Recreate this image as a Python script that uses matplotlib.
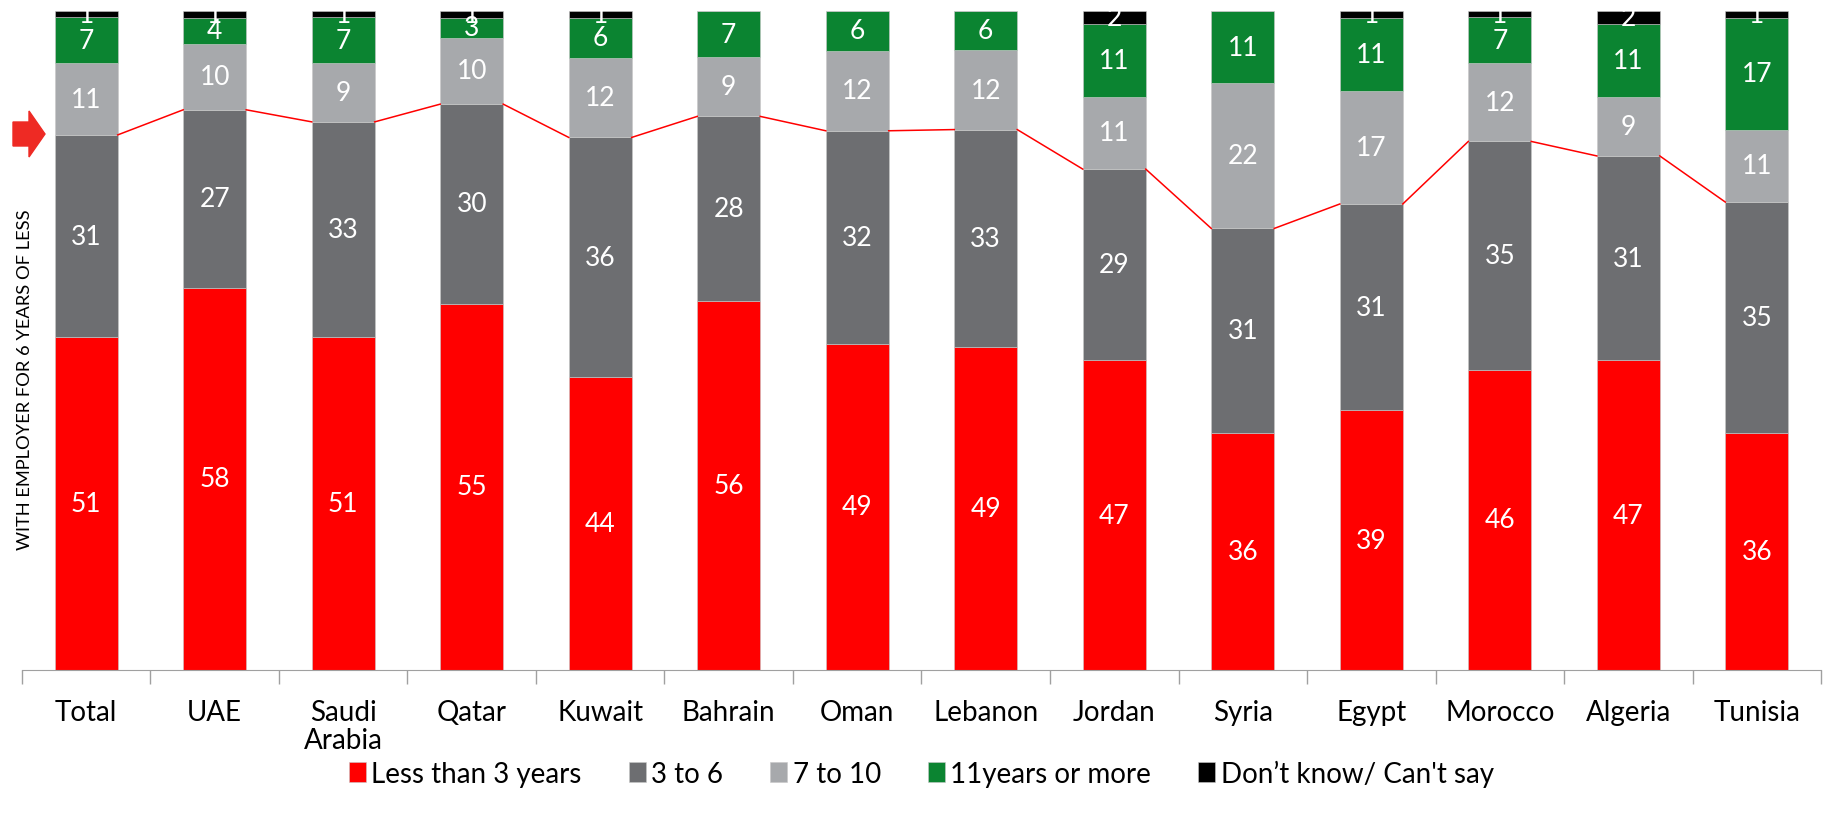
import numpy as np
import matplotlib.pyplot as plt
import matplotlib.patches as mpatches

plt.rcParams['font.family'] = ['Lato', 'DejaVu Sans']

countries = ["Total", "UAE", "Saudi\nArabia", "Qatar", "Kuwait", "Bahrain", "Oman",
             "Lebanon", "Jordan", "Syria", "Egypt", "Morocco", "Algeria", "Tunisia"]
series_names = ["Less than 3 years", "3 to 6", "7 to 10", "11years or more",
                "Don\u2019t know/ Can't say"]
less_3 = [51, 58, 51, 55, 44, 56, 49, 49, 47, 36, 39, 46, 47, 36]
y3_6 = [31, 27, 33, 30, 36, 28, 32, 33, 29, 31, 31, 35, 31, 35]
y7_10 = [11, 10, 9, 10, 12, 9, 12, 12, 11, 22, 17, 12, 9, 11]
y11_more = [7, 4, 7, 3, 6, 7, 6, 6, 11, 11, 11, 7, 11, 17]
dont_know = [1, 1, 1, 1, 1, 0, 0, 0, 2, 0, 1, 1, 2, 1]

colors = ["#FF0000", "#6D6E71", "#A7A9AC", "#0B8431", "#000000"]

data = np.array([less_3, y3_6, y7_10, y11_more, dont_know], dtype=float)
# 100% stacked: normalise each column
shares = data / data.sum(axis=0) * 100

fig = plt.figure(figsize=(18.28, 8.29), dpi=100)
ax = fig.add_axes([0.012, 0.1906, 0.9842, 0.795])

x = np.arange(len(countries))
width = 0.49
bottom = np.zeros(len(countries))
for i, name in enumerate(series_names):
    rects = ax.bar(x, shares[i], width, bottom=bottom, color=colors[i], label=name,
                   edgecolor="#C8C8C8", linewidth=0.4)
    for j, r in enumerate(rects):
        if data[i, j] > 0:
            ax.text(r.get_x() + r.get_width() / 2, bottom[j] + shares[i, j] / 2,
                    "%d" % data[i, j], ha="center", va="center", color="white",
                    fontsize=19, clip_on=False)
    bottom += shares[i]

# series line joining the top of "3 to 6"
top2 = shares[0] + shares[1]
for j in range(len(countries) - 1):
    ax.plot([x[j] + width / 2, x[j + 1] - width / 2], [top2[j], top2[j + 1]],
            color="#FF0000", lw=1.1)

ax.set_xlim(-0.5, len(countries) - 0.5)
ax.set_ylim(0, 100)
ax.set_yticks([])
ax.set_xticks(x)
ax.set_xticklabels(countries, fontsize=20, linespacing=1.1)
ax.set_xticks(np.arange(-0.5, len(countries)), minor=True)
ax.tick_params(axis="x", which="major", length=0, pad=21)
ax.tick_params(axis="x", which="minor", length=10, color="#A0A0A0", width=1)
for s in ["top", "right", "left"]:
    ax.spines[s].set_visible(False)
ax.spines["bottom"].set_color("#A0A0A0")

fig.text(25 / 1828, 1 - 380 / 829, "WITH EMPLOYER FOR 6 YEARS OF LESS", rotation=90,
         ha="center", va="center", fontsize=13.2)

# red arrow on the left
W, H = 1828, 829
pts = [(13, 123), (29, 123), (29, 112), (45, 135), (29, 158), (29, 147), (13, 147)]
arrow = mpatches.Polygon([(px / W, 1 - py / H) for px, py in pts], closed=True,
                         transform=fig.transFigure, color="#EE2A24")
fig.patches.append(arrow)

fig.legend(loc="center", bbox_to_anchor=(0.504, 0.066), ncol=5, frameon=False,
           fontsize=20, handlelength=0.6, handleheight=0.75, handletextpad=0.2,
           columnspacing=1.7)

fig.savefig("out.png", dpi=100)
